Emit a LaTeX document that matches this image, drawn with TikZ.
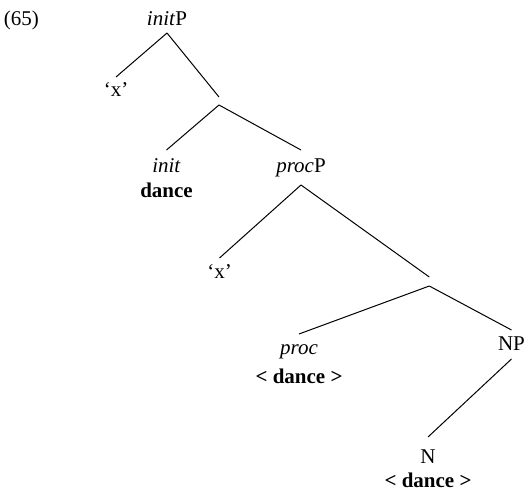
\documentclass[tikz,border=0pt]{standalone}
\usepackage{fontspec}
\setmainfont{Liberation Serif}
\begin{document}
\begin{tikzpicture}[x=1pt,y=-1pt,
  every node/.style={font=\fontsize{21}{25}\selectfont},
  lab/.style={anchor=base,inner sep=0pt,outer sep=0pt},
  gapnode/.style={inner sep=0pt,outer sep=0pt,minimum width=0pt},
  branch/.style={line width=1pt}]
\useasboundingbox (0,0) rectangle (525,492);
\node[lab,anchor=base west] (num) at (4,26) {(65)};
\node[lab] (initP) at (167,26) {\textit{init}P};
\node[lab] (x1) at (116,97) {‘x’};
\node[gapnode,minimum height=8pt] (e1) at (219,101) {};
\node[lab] (init) at (166.5,172) {\begin{tabular}[t]{@{}c@{}}\textit{init}\\ \textbf{dance}\end{tabular}};
\node[lab] (procP) at (301,172) {\textit{proc}P};
\node[lab] (x2) at (219.5,278) {‘x’};
\node[gapnode,minimum height=9pt] (e2) at (429.3,281.5) {};
\node[lab] (proc) at (299,354) {\begin{tabular}[t]{@{}c@{}}\textit{proc}\\[4pt] \textbf{< dance >}\end{tabular}};
\node[lab] (NP) at (511.5,350) {NP};
\node[lab] (N) at (428,463) {\begin{tabular}[t]{@{}c@{}}N\\[-1pt] \textbf{< dance >}\end{tabular}};
\draw[branch] ([yshift=-7pt]initP.base) -- ([yshift=20pt]x1.base);
\draw[branch] ([yshift=-7pt]initP.base) -- (e1.north);
\draw[branch] (e1.south) -- ([yshift=22pt]init.base);
\draw[branch] (e1.south) -- ([yshift=22pt]procP.base);
\draw[branch] ([yshift=-13pt]procP.base) -- ([yshift=20pt]x2.base);
\draw[branch] ([yshift=-13pt]procP.base) -- (e2.north);
\draw[branch] (e2.south) -- ([yshift=20pt]proc.base);
\draw[branch] (e2.south) -- ([yshift=20pt]NP.base);
\draw[branch] ([yshift=-9pt]NP.base) -- ([yshift=26pt]N.base);
\end{tikzpicture}
\end{document}
